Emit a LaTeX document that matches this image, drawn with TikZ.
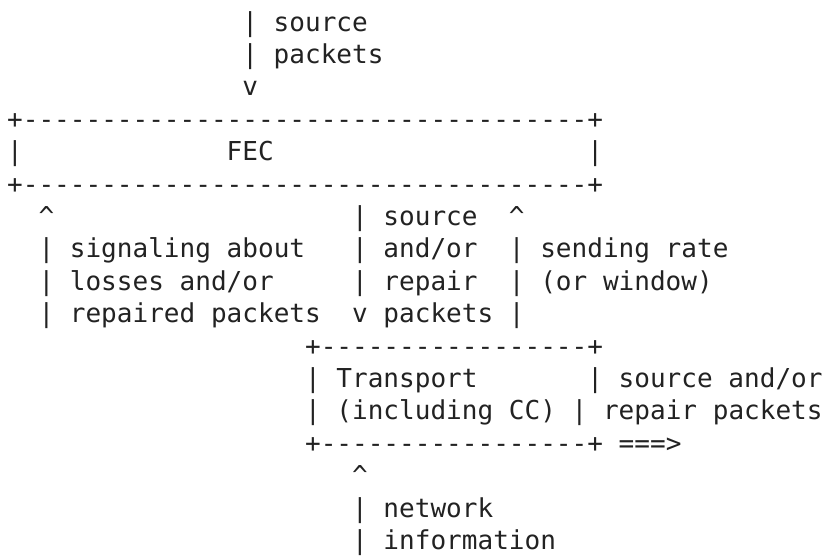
\documentclass[tikz,border=0pt]{standalone}
\usepackage{fontspec}
\setmonofont{DejaVu Sans Mono}
\definecolor{ink}{RGB}{34,34,34}
\newcommand\caret{\textasciicircum}
\begin{document}
\begin{tikzpicture}[x=15.68pt,y=-32.4pt,
  txt/.style={anchor=base west,inner sep=0pt,outer sep=0pt,text=ink,
    font=\ttfamily\fontsize{26.05pt}{32.4pt}\selectfont}]
\useasboundingbox (0,0) rectangle (53.444,17.130);
\newcommand\seg[4]{\node[txt] (#1) at ({#2+0.4566},{#3+0.957}) {#4};}
\seg{srcA}{15}{0}{| source}
\seg{srcB}{15}{1}{| packets}
\seg{srcV}{15}{2}{v}
\seg{fecTop}{0}{3}{+------------------------------------+}
\seg{fecL}{0}{4}{|}
\seg{fec}{14}{4}{FEC}
\seg{fecR}{37}{4}{|}
\seg{fecBot}{0}{5}{+------------------------------------+}
\seg{sigUp}{2}{6}{\caret}
\seg{srA}{22}{6}{| source}
\seg{rateUp}{32}{6}{\caret}
\seg{sigA}{2}{7}{| signaling about}
\seg{srB}{22}{7}{| and/or}
\seg{rateA}{32}{7}{| sending rate}
\seg{sigB}{2}{8}{| losses and/or}
\seg{srC}{22}{8}{| repair}
\seg{rateB}{32}{8}{| (or window)}
\seg{sigC}{2}{9}{| repaired packets}
\seg{srD}{22}{9}{v packets |}
\seg{trTop}{19}{10}{+-----------------+}
\seg{trA}{19}{11}{| Transport}
\seg{trR}{37}{11}{| source and/or}
\seg{trB}{19}{12}{| (including CC) | repair packets}
\seg{trBot}{19}{13}{+-----------------+ ===>}
\seg{netUp}{22}{14}{\caret}
\seg{netA}{22}{15}{| network}
\seg{netB}{22}{16}{| information}
\end{tikzpicture}
\end{document}
